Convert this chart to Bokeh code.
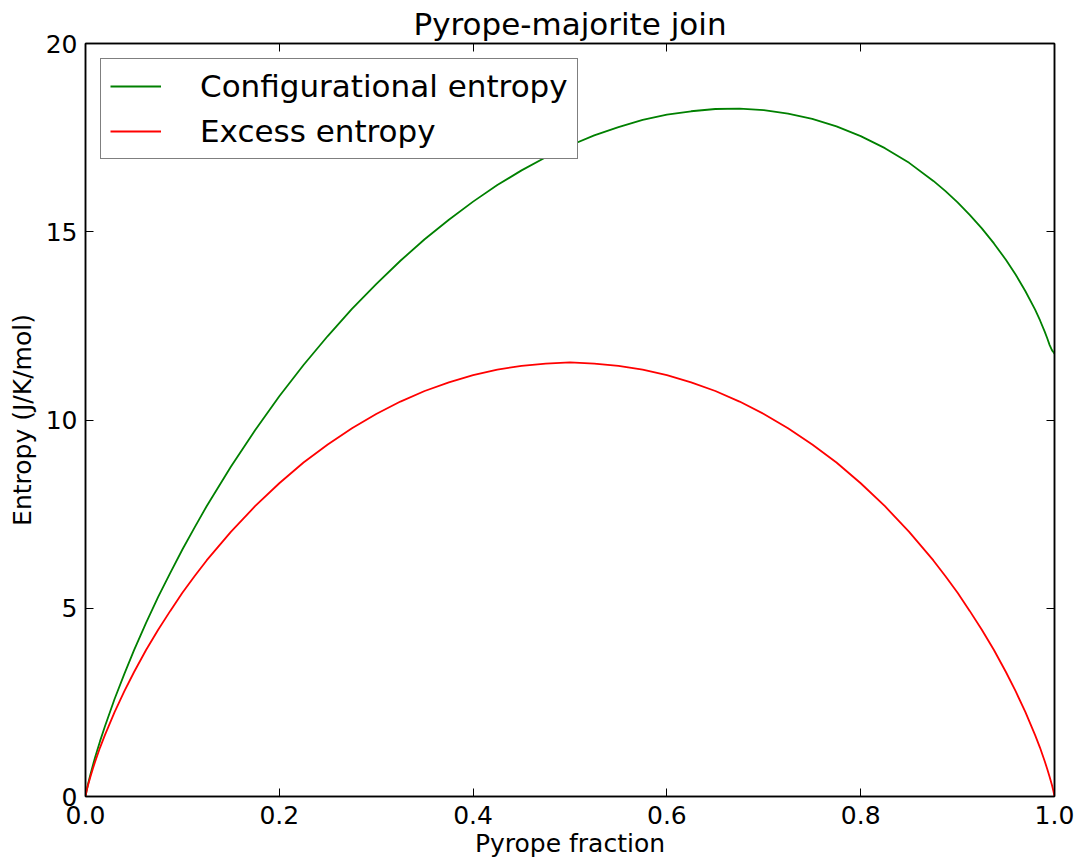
from bokeh.plotting import figure
from bokeh.models import Range1d, FixedTicker, PrintfTickFormatter, LinearAxis, Legend, LegendItem
from bokeh.embed import file_html
from bokeh.resources import INLINE

# Data
x_frac = [0, 0.001, 0.0025, 0.005, 0.0075, 0.01, 0.015, 0.02, 0.03, 0.04, 0.05, 0.0625,
          0.075, 0.0875, 0.1, 0.1125, 0.125, 0.15, 0.175, 0.2, 0.225, 0.25, 0.275, 0.3,
          0.325, 0.35, 0.375, 0.4, 0.425, 0.45, 0.475, 0.5, 0.525, 0.55, 0.575, 0.6,
          0.625, 0.65, 0.675, 0.7, 0.725, 0.75, 0.775, 0.8, 0.825, 0.85, 0.875, 0.8875,
          0.9, 0.9125, 0.925, 0.9375, 0.95, 0.96, 0.97, 0.98, 0.985, 0.99, 0.9925, 0.995,
          0.9975, 0.999, 1.0]
config_entropy = [0, 0.14, 0.32, 0.58, 0.82, 1.05, 1.47, 1.86, 2.59, 3.25, 3.88, 4.61,
                  5.30, 5.94, 6.56, 7.14, 7.71, 8.76, 9.73, 10.63, 11.46, 12.23, 12.95, 13.61,
                  14.23, 14.80, 15.32, 15.80, 16.24, 16.63, 16.98, 17.29, 17.56, 17.78, 17.97, 18.11,
                  18.20, 18.26, 18.27, 18.23, 18.14, 18.00, 17.80, 17.54, 17.22, 16.83, 16.35, 16.08,
                  15.78, 15.45, 15.09, 14.69, 14.25, 13.86, 13.42, 12.93, 12.65, 12.34, 12.17, 11.99,
                  11.85, 11.80, 11.76]
excess_entropy = [0, 0.13, 0.29, 0.52, 0.73, 0.93, 1.30, 1.63, 2.24, 2.79, 3.30, 3.89,
                  4.43, 4.93, 5.41, 5.85, 6.27, 7.03, 7.71, 8.32, 8.87, 9.35, 9.78, 10.16,
                  10.49, 10.77, 11.00, 11.19, 11.34, 11.44, 11.50, 11.53, 11.50, 11.44, 11.34, 11.19,
                  11.00, 10.77, 10.49, 10.16, 9.78, 9.35, 8.87, 8.32, 7.71, 7.03, 6.27, 5.85,
                  5.41, 4.93, 4.43, 3.89, 3.30, 2.79, 2.24, 1.63, 1.30, 0.93, 0.73, 0.52,
                  0.29, 0.13, 0]
x_ticks = [0.0, 0.2, 0.4, 0.6, 0.8, 1.0]
y_ticks = [0, 5, 10, 15, 20]

FONT = "DejaVu Sans"
TICK_FS = "25px"
BIG_FS = "31px"

p = figure(width=1079, height=863, output_backend="svg", toolbar_location=None,
           x_range=Range1d(0, 1), y_range=Range1d(0, 20),
           min_border_left=85, min_border_right=25, min_border_top=43, min_border_bottom=67,
           background_fill_color="white", border_fill_color="white")

p.title.text = "Pyrope-majorite join"
p.title.align = "center"
p.title.text_font = FONT
p.title.text_font_size = BIG_FS
p.title.text_font_style = "normal"
p.title.text_color = "black"
p.title.standoff = 4
p.title.offset = 0

p.grid.visible = False
p.outline_line_color = "black"
p.outline_line_width = 1.5

def style_axis(ax, show_labels):
    ax.axis_line_color = "black"
    ax.axis_line_width = 1.5
    ax.major_tick_in = 8
    ax.major_tick_out = 0
    ax.major_tick_line_color = "black"
    ax.major_tick_line_width = 1
    ax.minor_tick_line_color = None
    ax.major_label_text_font = FONT
    ax.major_label_text_font_size = TICK_FS
    ax.major_label_text_color = "black" if show_labels else None
    ax.axis_label_text_font = FONT
    ax.axis_label_text_font_size = TICK_FS
    ax.axis_label_text_font_style = "normal"
    ax.axis_label_text_color = "black"

xa = p.xaxis[0]
xa.ticker = FixedTicker(ticks=x_ticks)
xa.formatter = PrintfTickFormatter(format="%.1f")
xa.axis_label = "Pyrope fraction"
style_axis(xa, True)
xa.major_label_standoff = 9
xa.axis_label_standoff = 2

ya = p.yaxis[0]
ya.ticker = FixedTicker(ticks=y_ticks)
ya.formatter = PrintfTickFormatter(format="%d")
ya.axis_label = "Entropy (J/K/mol)"
style_axis(ya, True)
ya.major_label_standoff = 8
ya.axis_label_standoff = 6

top = LinearAxis(ticker=FixedTicker(ticks=x_ticks))
style_axis(top, False)
top.major_label_text_font_size = "0px"
top.major_label_standoff = 0
p.add_layout(top, "above")

right = LinearAxis(ticker=FixedTicker(ticks=y_ticks))
style_axis(right, False)
right.major_label_text_font_size = "0px"
right.major_label_standoff = 0
p.add_layout(right, "right")

g = p.line(x_frac, config_entropy, line_color="#008000", line_width=1.8)
r = p.line(x_frac, excess_entropy, line_color="#FF0000", line_width=1.8)

legend = Legend(items=[LegendItem(label="Configurational entropy", renderers=[g]),
                       LegendItem(label="Excess entropy", renderers=[r])],
                location="top_left")
legend.margin = 15
legend.padding = 9
legend.spacing = 9
legend.label_height = 36
legend.glyph_height = 36
legend.glyph_width = 51
legend.label_standoff = 39
legend.label_text_font = FONT
legend.label_text_font_size = BIG_FS
legend.label_text_color = "black"
legend.border_line_color = "black"
legend.border_line_width = 1.5
legend.background_fill_color = "white"
legend.background_fill_alpha = 1.0
p.add_layout(legend, "center")

open("out.html", "w").write(file_html(p, INLINE))
